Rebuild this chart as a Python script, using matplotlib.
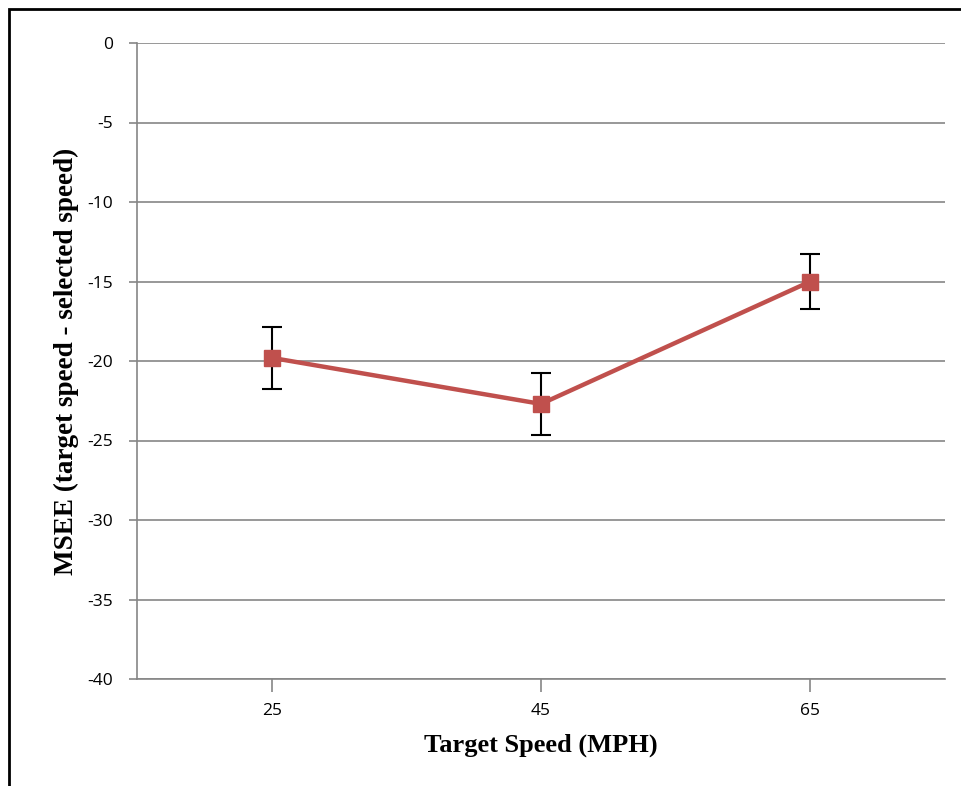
import matplotlib
matplotlib.use("Agg")
import matplotlib.pyplot as plt
from matplotlib.patches import Rectangle

categories = ["25", "45", "65"]
msee = [-19.8, -22.7, -15.0]
err = [1.94, 1.95, 1.72]
yticks = [0, -5, -10, -15, -20, -25, -30, -35, -40]

W, H = 961, 786
fig = plt.figure(figsize=(W/100, H/100), dpi=100)
ax = fig.add_axes([137/W, 1-679/H, (945-137)/W, (679-43)/H])

grid_c = "#868686"
x = list(range(len(categories)))
ax.errorbar(x, msee, yerr=err, fmt="none", ecolor="black", elinewidth=1.5,
            capsize=7, capthick=1.5, zorder=3)
ax.plot(x, msee, color="#C0504D", linewidth=3.2, marker="s", markersize=11,
        zorder=4)

ax.set_xlim(-0.5, len(categories) - 0.5)
ax.set_ylim(-40, 0)
ax.set_yticks(yticks)
ax.set_yticklabels([str(v) for v in yticks])
ax.set_xticks(x)
ax.set_xticklabels(categories)
ax.yaxis.grid(True, color=grid_c, linewidth=1.2)
ax.set_axisbelow(True)
for s in ["top", "right"]:
    ax.spines[s].set_visible(False)
for s in ["left", "bottom"]:
    ax.spines[s].set_color(grid_c)
    ax.spines[s].set_linewidth(1.2)
ax.tick_params(axis="y", length=6, color=grid_c, width=1.2, pad=11,
               labelsize=12.5, labelcolor="black")
ax.tick_params(axis="x", length=9, color=grid_c, width=1.2, pad=8,
               labelsize=12.5, labelcolor="black")
for lab in ax.get_xticklabels() + ax.get_yticklabels():
    lab.set_family("Open Sans")

ax.set_xlabel("Target Speed (MPH)", family="Liberation Serif",
              fontweight="bold", fontsize=19, labelpad=11)
ax.set_ylabel("MSEE (target speed - selected speed)", family="Liberation Serif",
              fontweight="bold", fontsize=19.5, labelpad=6)

fig.patches.append(Rectangle((9/W, -0.1), 1.2, 1 - 9/H + 0.1,
                             transform=fig.transFigure, fill=False,
                             edgecolor="black", linewidth=2))

fig.savefig("out.png", dpi=100)
